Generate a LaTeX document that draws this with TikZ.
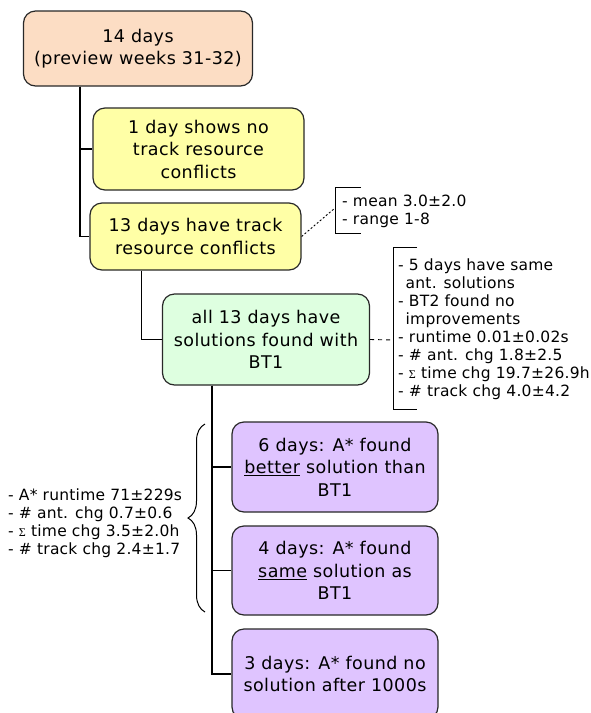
\documentclass[tikz,border=0pt]{standalone}
\usepackage{fontspec}
\setmainfont{DejaVu Sans}[LetterSpace=2.5]
\newfontfamily\notefont{DejaVu Sans}[LetterSpace=1.5]
\newfontfamily\sigfont{Liberation Serif}
\usetikzlibrary{decorations.pathreplacing}
\definecolor{peach}{RGB}{252,221,196}
\definecolor{lyellow}{RGB}{255,255,166}
\definecolor{lgreen}{RGB}{222,255,224}
\definecolor{lpurple}{RGB}{223,196,255}
\definecolor{boxline}{RGB}{40,40,40}
\newcommand{\sg}{{\sigfont\fontsize{12}{12}\selectfont Σ}}
\begin{document}
\begin{tikzpicture}[x=1pt,y=-1pt,
  box/.style={draw=boxline, line width=1.2pt, rounded corners=12pt, align=center,
    font=\fontsize{17.5}{22.5}\selectfont, inner sep=0pt},
  conn/.style={line width=1.3pt, draw=black},
  note/.style={align=left, anchor=west, inner sep=0pt, font=\notefont\fontsize{15.5}{18}\selectfont},
  brk/.style={line width=1pt}]
\useasboundingbox (0,0) rectangle (591,713);

\node[box, fill=peach, minimum width=229pt, minimum height=75pt] (top) at (138,48.5)
  {14 days\\(preview weeks 31-32)};
\node[box, fill=lyellow, minimum width=211pt, minimum height=82pt] (y1) at (198.5,149)
  {1 day shows no\\track resource\\conflicts};
\node[box, fill=lyellow, minimum width=211pt, minimum height=67pt] (y2) at (195.5,236.5)
  {13 days have track\\resource conflicts};
\node[box, fill=lgreen, minimum width=207pt, minimum height=91pt] (g) at (266,339.5)
  {all 13 days have\\solutions found with\\BT1};
\node[box, fill=lpurple, minimum width=206pt, minimum height=90pt] (p1) at (335,467)
  {6 days: A* found\\\underline{better} solution than\\BT1};
\node[box, fill=lpurple, minimum width=206pt, minimum height=89pt] (p2) at (335,570.5)
  {4 days: A* found\\\underline{same} solution as\\BT1};
\node[box, fill=lpurple, minimum width=206pt, minimum height=90pt] (p3) at (335,674)
  {3 days: A* found no\\solution after 1000s};

% connectors
\draw[conn, line width=1.8pt] ([xshift=57pt]top.south west) -- ([xshift=57pt]top.south west |- y1.west);
\draw[conn] ([xshift=57pt]top.south west) |- (y1.west);
\draw[conn] ([xshift=57pt]top.south west) |- (y2.west);
\draw[conn] ([xshift=52pt]y2.south west) |- (g.west);
\draw[conn] ([xshift=50pt]g.south west) |- (p1.west);
\draw[conn] ([xshift=50pt]g.south west) |- (p2.west);
\draw[conn] ([xshift=50pt]g.south west) |- (p3.west);

% note 1
\node[note] (n1) at (342,211.5) {- mean 3.0±2.0\\- range 1-8};
\coordinate (b1a) at (361,187);
\coordinate (b1b) at (335,187);
\coordinate (b1c) at (335,233);
\coordinate (b1d) at (361,233);
\coordinate (b1m) at (335,208);
\draw[brk] (b1a) -- (b1b) -- (b1c) -- (b1d);
\draw[line width=0.9pt, dash pattern=on 2pt off 2pt] (y2.east) -- (b1m);

% note 2
\node[note] (n2) at (398,329.5) {- 5 days have same\\\hspace*{7.5pt}ant. solutions\\- BT2 found no\\\hspace*{7.5pt}improvements\\- runtime 0.01±0.02s\\- \# ant. chg 1.8±2.5\\- \sg{} time chg 19.7±26.9h\\- \# track chg 4.0±4.2};
\coordinate (b2a) at (417,247);
\coordinate (b2b) at (393,247);
\coordinate (b2c) at (393,409);
\coordinate (b2d) at (417,409);
\coordinate (b2m) at (393,340);
\draw[brk] (b2a) -- (b2b) -- (b2c) -- (b2d);
\draw[line width=0.9pt, dash pattern=on 4pt off 4pt] (g.east) -- (b2m);

% note 3
\node[note] (n3) at (8,523) {- A* runtime 71±229s\\- \# ant. chg 0.7±0.6\\- \sg{} time chg 3.5±2.0h\\- \# track chg 2.4±1.7};
\coordinate (brA) at (205,612);
\coordinate (brB) at (205,424);
\draw[brk, decorate, decoration={brace, amplitude=17pt}] (brA) -- (brB);
\end{tikzpicture}
\end{document}
